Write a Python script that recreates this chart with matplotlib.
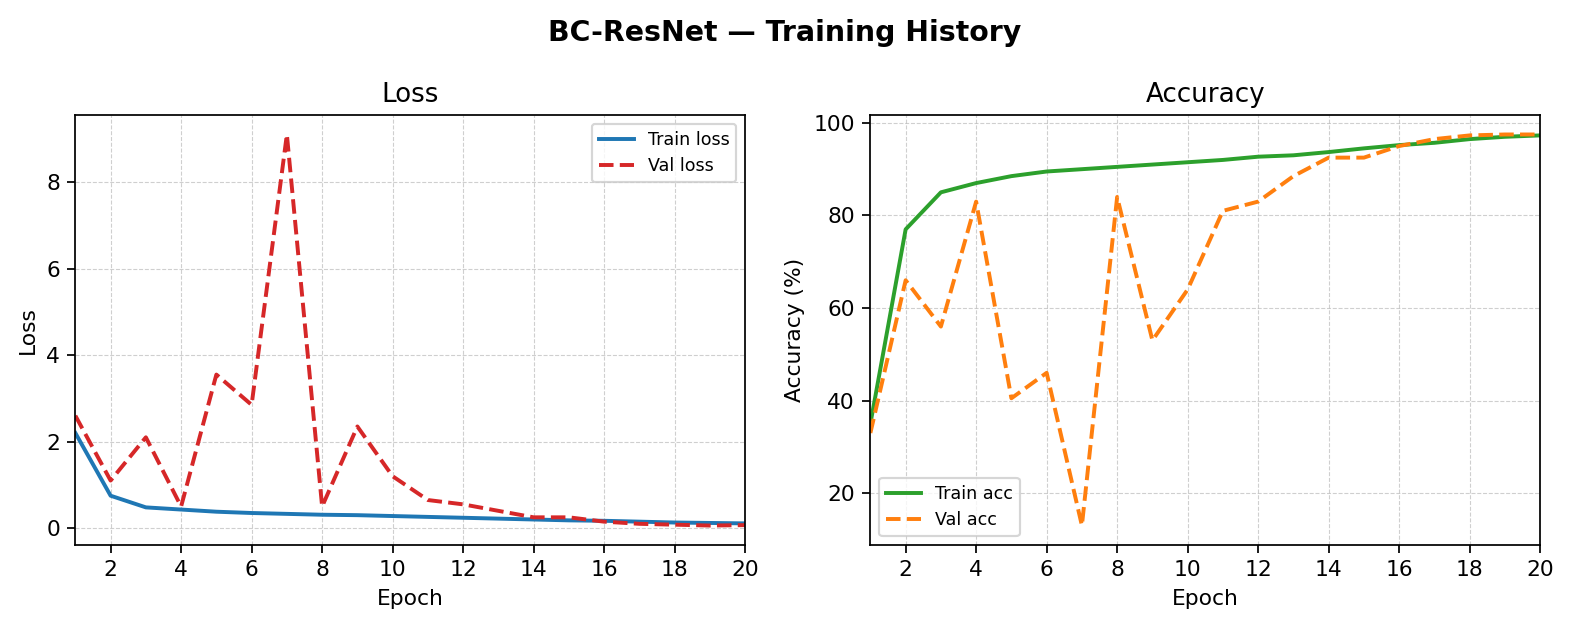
import matplotlib
matplotlib.use("Agg")
import matplotlib.pyplot as plt

epochs = list(range(1, 21))
train_loss = [2.2, 0.75, 0.48, 0.43, 0.38, 0.35, 0.33, 0.31, 0.30, 0.28, 0.26, 0.24, 0.22, 0.20, 0.18, 0.17, 0.15, 0.13, 0.12, 0.11]
val_loss = [2.6, 1.1, 2.1, 0.5, 3.55, 2.85, 9.1, 0.5, 2.35, 1.2, 0.65, 0.55, 0.4, 0.25, 0.25, 0.15, 0.1, 0.08, 0.06, 0.07]
train_acc = [35, 77, 85, 87, 88.5, 89.5, 90, 90.5, 91, 91.5, 92, 92.7, 93, 93.7, 94.5, 95.2, 95.7, 96.5, 97, 97.3]
val_acc = [33, 66, 56, 83, 40.5, 46, 13, 84, 53, 64, 81, 83, 88.5, 92.5, 92.5, 95, 96.5, 97.3, 97.5, 97.5]

fig, (ax1, ax2) = plt.subplots(1, 2, figsize=(10, 4), dpi=157)
ax1.plot(epochs, train_loss, color="#1f77b4", lw=1.8, label="Train loss")
ax1.plot(epochs, val_loss, color="#d62728", lw=1.8, ls="--", label="Val loss")
ax1.set_title("Loss"); ax1.set_xlabel("Epoch"); ax1.set_ylabel("Loss")
ax1.legend(fontsize=8)
ax2.plot(epochs, train_acc, color="#2ca02c", lw=1.8, label="Train acc")
ax2.plot(epochs, val_acc, color="#ff7f0e", lw=1.8, ls="--", label="Val acc")
ax2.set_title("Accuracy"); ax2.set_xlabel("Epoch"); ax2.set_ylabel("Accuracy (%)")
ax2.legend(fontsize=8, loc="lower left")
for ax in (ax1, ax2):
    ax.set_xlim(1, 20)
    ax.set_xticks(range(2, 21, 2))
    ax.grid(True, ls="--", lw=0.5, alpha=0.6)
fig.suptitle("BC-ResNet — Training History", fontsize=13, fontweight="bold", y=0.97)
fig.subplots_adjust(left=0.048, right=0.981, top=0.817, bottom=0.132, wspace=0.187)
fig.savefig("out.png")
